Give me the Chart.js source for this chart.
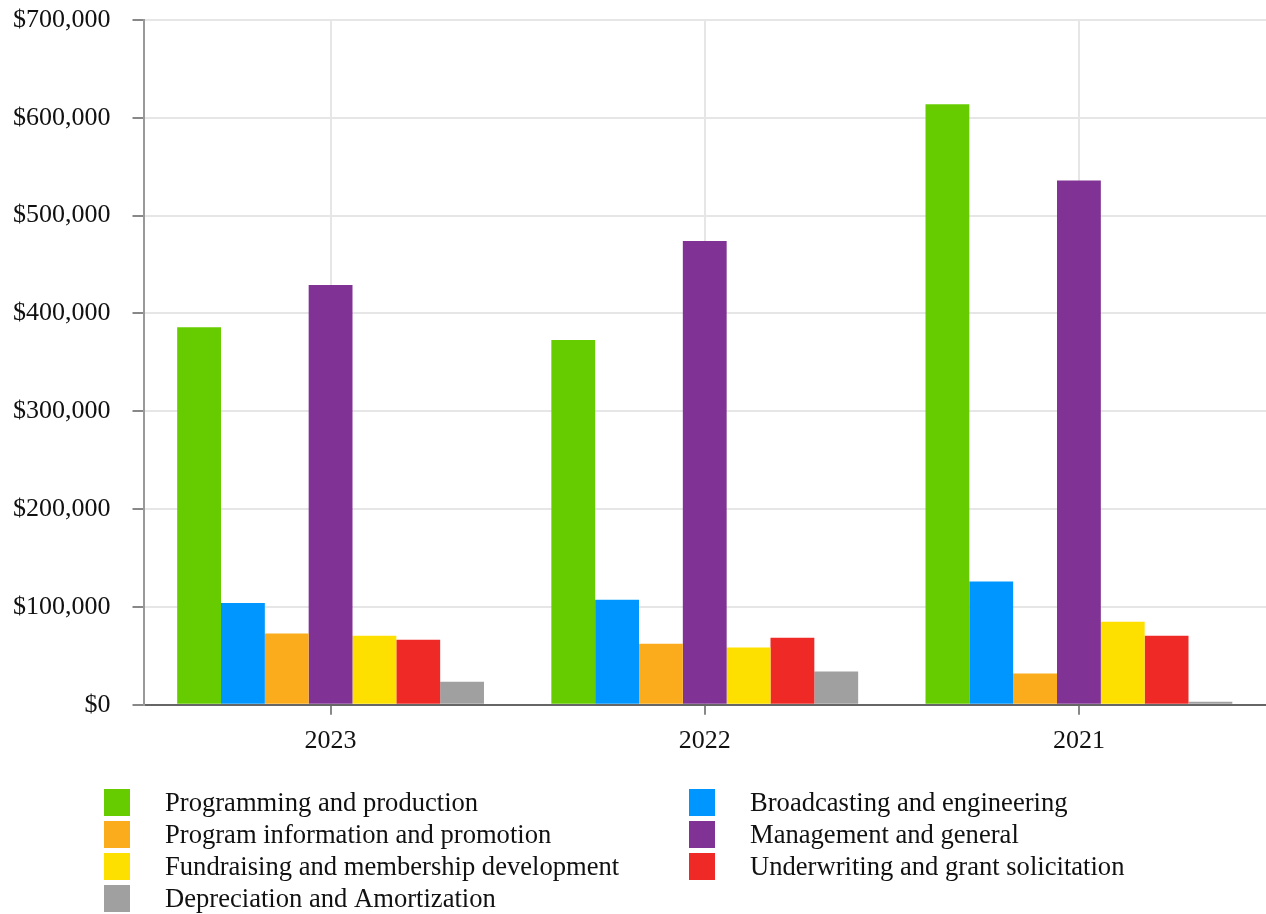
<!DOCTYPE html>
<html lang="en">
<head>
    <meta charset="UTF-8">
    <title>Expenses by function</title>
    <script src="https://cdn.jsdelivr.net/npm/chart.js"></script>
    <style>
        body {
            margin: 0;
            background: #fff;
        }
        #wrap {
            width: 1266px;
            height: 914px;
        }
    </style>
</head>
<body>

<div id="wrap"><canvas id="myChart" width="1266" height="914"></canvas></div>

<script>
    // years shown on the x axis
    const years = ['2023', '2022', '2021'];

    const seriesNames = [
        'Programming and production',
        'Broadcasting and engineering',
        'Program information and promotion',
        'Management and general',
        'Fundraising and membership development',
        'Underwriting and grant solicitation',
        'Depreciation and Amortization'
    ];

    const seriesColors = ['#66cc00', '#0096ff', '#faac1c', '#803394', '#fde000', '#ef2a26', '#a0a0a0'];

    // values per series, in the order of years
    const programming = [386000, 373000, 614000];
    const broadcasting = [104000, 107500, 126000];
    const programInfo = [73000, 62500, 32000];
    const management = [429000, 474000, 536000];
    const fundraising = [70500, 58500, 85000];
    const underwriting = [66500, 68500, 70500];
    const depreciation = [23500, 34000, 3000];

    const allSeries = [programming, broadcasting, programInfo, management, fundraising, underwriting, depreciation];

    const yTicks = [0, 100000, 200000, 300000, 400000, 500000, 600000, 700000];

    const FONT = '"Liberation Serif", "Times New Roman", serif';

    // legend in two columns under the plot
    const gridLegend = {
        id: 'gridLegend',
        afterDraw(chart) {
            const ctx = chart.ctx;
            const cols = [104, 689];
            const top = 789;
            const rowH = 32;
            ctx.save();
            ctx.font = '26.6px ' + FONT;
            ctx.textBaseline = 'middle';
            chart.data.datasets.forEach((ds, i) => {
                const col = i % 2;
                const row = Math.floor(i / 2);
                const x = cols[col];
                const y = top + row * rowH;
                ctx.fillStyle = ds.backgroundColor;
                ctx.fillRect(x, y, 26, 27);
                ctx.fillStyle = '#111';
                ctx.fillText(ds.label, x + 61, y + 15);
            });
            ctx.restore();
        }
    };

    function createChart() {
        const ctx = document.getElementById('myChart').getContext('2d');

        new Chart(ctx, {
            type: 'bar',
            data: {
                labels: years,
                datasets: seriesNames.map((name, i) => ({
                    label: name,
                    data: allSeries[i],
                    backgroundColor: seriesColors[i],
                    borderWidth: 0
                }))
            },
            options: {
                responsive: false,
                animation: false,
                layout: {
                    padding: { top: 0, left: -9, right: 0, bottom: 146 }
                },
                datasets: {
                    bar: { categoryPercentage: 0.82, barPercentage: 1.0 }
                },
                plugins: {
                    legend: { display: false },
                    tooltip: { enabled: false }
                },
                scales: {
                    x: {
                        offset: true,
                        grid: {
                            offset: false,
                            color: '#e6e6e6',
                            lineWidth: 2,
                            tickColor: '#888',
                            tickLength: 10
                        },
                        border: { color: '#666', width: 2 },
                        ticks: {
                            color: '#111',
                            padding: 11,
                            font: { family: FONT, size: 26 }
                        }
                    },
                    y: {
                        min: 0,
                        max: 700000,
                        afterBuildTicks(axis) {
                            axis.ticks = yTicks.map(v => ({ value: v }));
                        },
                        // the big label gap should not push the plot down
                        afterFit(axis) {
                            axis.paddingTop = 20;
                            axis.paddingBottom = 16;
                        },
                        grid: {
                            color: '#e6e6e6',
                            lineWidth: 2,
                            tickColor: '#888',
                            tickLength: 11
                        },
                        border: { color: '#999', width: 2 },
                        ticks: {
                            color: '#111',
                            padding: 22,
                            font: { family: FONT, size: 26 },
                            callback: v => '$' + v.toLocaleString('en-US')
                        }
                    }
                }
            },
            plugins: [gridLegend]
        });
    }

    document.addEventListener('DOMContentLoaded', createChart);
</script>

</body>
</html>
